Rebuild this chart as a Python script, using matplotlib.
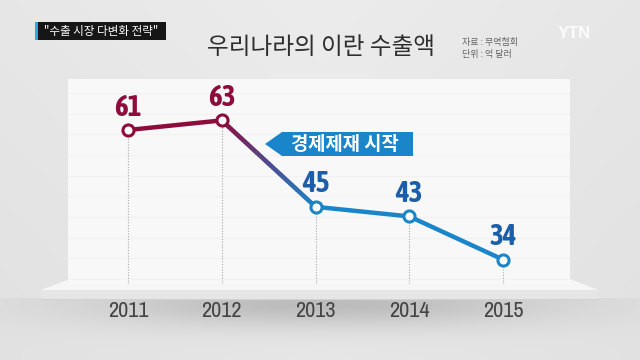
import numpy as np
import matplotlib
matplotlib.use('Agg')
import matplotlib.pyplot as plt
from matplotlib import font_manager
from matplotlib.collections import LineCollection
from matplotlib.patches import Polygon, Rectangle
from matplotlib.colors import to_rgb

# data
years = [2011, 2012, 2013, 2014, 2015]
values = [61, 63, 45, 43, 34]
year_labels = ['2011', '2012', '2013', '2014', '2015']
title = '우리나라의 이란 수출액'
tag = '"수출 시장 다변화 전략"'
source = ['자료 : 무역협회', '단위 : 억 달러']
callout = '경제제재 시작'

red = '#8e0c3c'
blue = '#1a86c9'
red_txt = '#8e0c3c'
blue_txt = '#1b5ea9'

kr = ['Noto Sans CJK KR', 'DejaVu Sans']

# look for narrow / condensed faces installed; prefer one that has a bold cut
ttf = font_manager.fontManager.ttflist
cond = sorted({f.name for f in ttf if 'Narrow' in f.name or 'Condensed' in f.name})
cond_bold = sorted({f.name for f in ttf
                    if ('Narrow' in f.name or 'Condensed' in f.name)
                    and (f.weight in ('bold', 700) or (isinstance(f.weight, int) and f.weight >= 600))})
narrow = cond[:1] + ['DejaVu Sans']
narrow_b = (cond_bold[:1] or cond[:1]) + ['DejaVu Sans']

fig = plt.figure(figsize=(6.4, 3.6), dpi=100)

# background axes in pixel coords
bg = fig.add_axes([0, 0, 1, 1])
bg.set_xlim(0, 640)
bg.set_ylim(360, 0)
bg.axis('off')

# light gray backdrop with a soft shadow under the shelf
yy, xx = np.mgrid[0:360, 0:640]
base = 0.925 - 0.02 * (yy / 360.0) - 0.02 * np.abs(xx - 320) / 320.0
shadow = np.exp(-((xx - 320) / 230.0) ** 2 - ((yy - 303) / 24.0) ** 2)
shadow[yy < 298] = 0
img = base - 0.17 * shadow
bg.imshow(np.dstack([img, img, img]), extent=(0, 640, 360, 0), zorder=0, aspect='auto')

# shelf
bg.add_patch(Polygon([(41, 290), (70, 279), (570, 279), (598, 290)], closed=True,
                     facecolor='#f6f6f6', edgecolor='none', zorder=1))
bg.add_patch(Rectangle((41, 290), 557, 9, facecolor='#e6e6e6', edgecolor='none', zorder=1))
bg.plot([41, 598], [299, 299], color='#d2d2d2', lw=0.8, zorder=1)

# tag top-left
bg.add_patch(Rectangle((35, 22), 131, 18, facecolor='#161616', edgecolor='none', zorder=2))
bg.add_patch(Rectangle((35, 22), 3, 18, facecolor='#29a9e1', edgecolor='none', zorder=3))
bg.text(101, 31.5, tag, color='white', fontsize=8.3, family=kr, va='center', ha='center', zorder=3)

# title and source
bg.text(207, 47, title, color='#2e2e2e', fontsize=17, fontweight='medium', family=kr,
        va='center', ha='left', zorder=3)
bg.text(462, 42, source[0], color='#666666', fontsize=6.5, family=kr, va='center', ha='left', zorder=3)
bg.text(462, 55, source[1], color='#666666', fontsize=6.5, family=kr, va='center', ha='left', zorder=3)
bg.text(574, 33, 'YTN', color='white', alpha=0.85, fontsize=12, fontweight='bold',
        family=['Liberation Sans', 'DejaVu Sans'], va='center', ha='center', zorder=3)

# year labels
x_px = np.linspace(128, 503, len(years))
for xp, lab in zip(x_px, year_labels):
    bg.text(xp, 311, lab, color='#444444', fontsize=16, family=narrow,
            va='center', ha='center', zorder=3)

# data axes = white panel
l, r, t, b = 68, 570, 79, 284
ax = fig.add_axes([l / 640, (360 - b) / 360, (r - l) / 640, (b - t) / 360])
px_per_year = (503 - 128) / 4
ax.set_xlim(2011 + (l - 128) / px_per_year, 2011 + (r - 128) / px_per_year)
px_per_unit = 4.8
ax.set_ylim(61 - (b - 130) / px_per_unit, 61 + (130 - t) / px_per_unit)
ax.set_facecolor('#f8f8f8')
for s in ax.spines.values():
    s.set_visible(False)
ax.set_xticks([])
ax.set_yticks(np.arange(30, 72, 4.3))
ax.tick_params(left=False, labelleft=False)
ax.grid(axis='y', color='#f2f2f2', lw=0.8)
ax.set_axisbelow(True)

ymin = ax.get_ylim()[0]
for x, v in zip(years, values):
    ax.plot([x, x], [ymin, v], color='#aaaaaa', lw=0.8, ls=(0, (1, 1.5)), zorder=2)

# line with a red -> blue shift across the 2012-2013 drop
c_red = np.array(to_rgb(red))
c_blue = np.array(to_rgb(blue))
mid = np.array([0.32, 0.29, 0.55])
segs, cols = [], []
for i in range(len(years) - 1):
    x0, x1 = years[i], years[i + 1]
    v0, v1 = values[i], values[i + 1]
    if i == 1:
        n = 40
        ts = np.linspace(0, 1, n + 1)
        for k in range(n):
            segs.append([(x0 + (x1 - x0) * ts[k], v0 + (v1 - v0) * ts[k]),
                         (x0 + (x1 - x0) * ts[k + 1], v0 + (v1 - v0) * ts[k + 1])])
            tm = (ts[k] + ts[k + 1]) / 2
            if tm < 0.5:
                c = c_red + (mid - c_red) * (tm / 0.5)
            else:
                c = mid + (c_blue - mid) * ((tm - 0.5) / 0.5)
            cols.append(c)
    else:
        segs.append([(x0, v0), (x1, v1)])
        cols.append(c_red if i == 0 else c_blue)
lc = LineCollection(segs, colors=cols, linewidths=3.2, capstyle='round', zorder=3)
ax.add_collection(lc)

for i, (x, v) in enumerate(zip(years, values)):
    ec = red if i < 2 else blue
    tc = red_txt if i < 2 else blue_txt
    ax.plot(x, v, 'o', ms=8, mfc='white', mec=ec, mew=2.2, zorder=4)
    ax.annotate(str(v), (x, v), xytext=(0, 6), textcoords='offset points',
                ha='center', va='bottom', fontsize=21, fontweight='bold',
                family=narrow_b, color=tc, zorder=5)

# callout arrow box
bg2 = fig.add_axes([0, 0, 1, 1], facecolor='none')
bg2.set_xlim(0, 640)
bg2.set_ylim(360, 0)
bg2.axis('off')
bg2.add_patch(Polygon([(265, 144), (282, 132), (413, 132), (413, 156), (282, 156)],
                      closed=True, facecolor='#1a86c9', edgecolor='none', zorder=5))
bg2.text(345, 144, callout, color='white', fontsize=13.5, fontweight='bold', family=kr,
         va='center', ha='center', zorder=6)

fig.savefig('out.png', dpi=100)
